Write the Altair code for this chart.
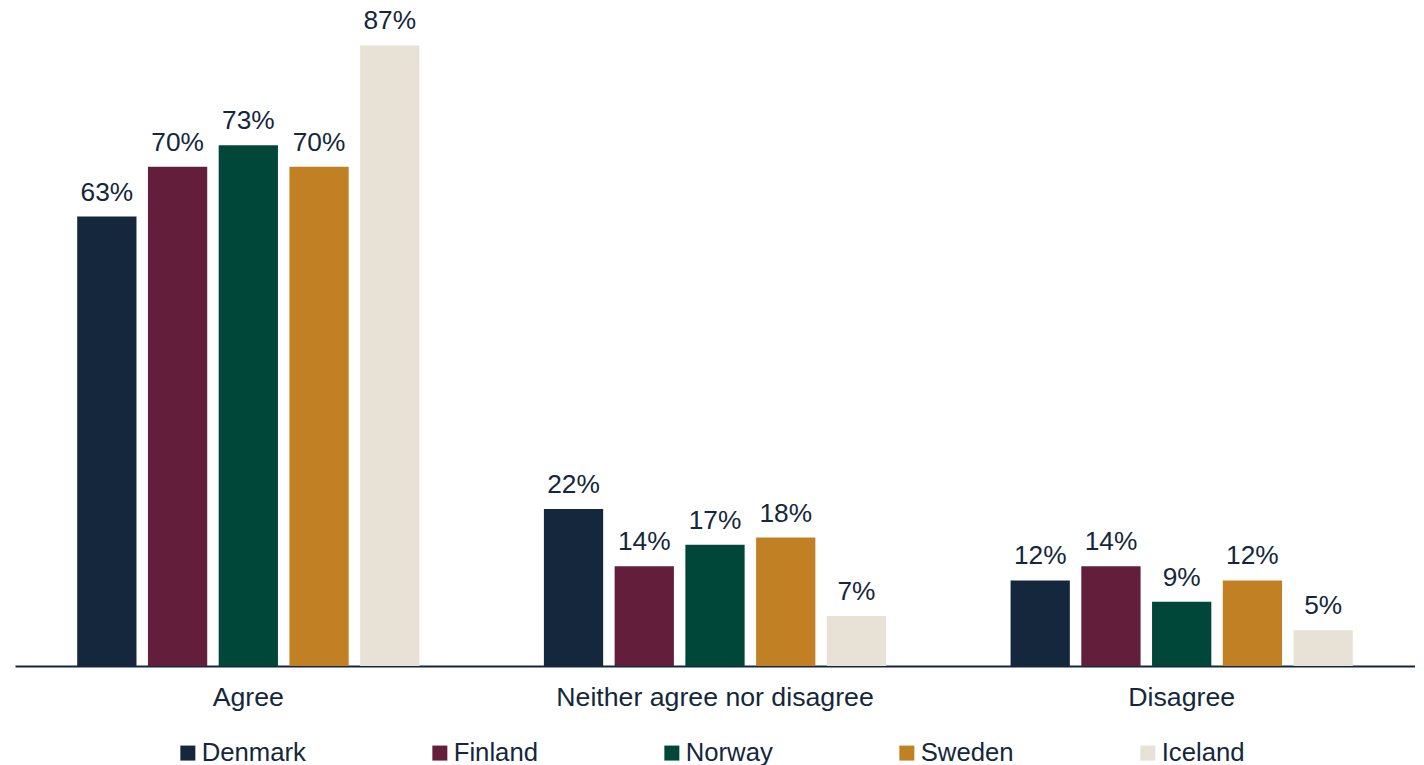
import altair as alt
import pandas as pd

categories = ["Agree", "Neither agree nor disagree", "Disagree"]
countries = ["Denmark", "Finland", "Norway", "Sweden", "Iceland"]
denmark = [63, 22, 12]
finland = [70, 14, 14]
norway = [73, 17, 9]
sweden = [70, 18, 12]
iceland = [87, 7, 5]
colors = ["#14273c", "#631e3b", "#00473a", "#c18023", "#e8e1d6"]

series = {"Denmark": denmark, "Finland": finland, "Norway": norway,
          "Sweden": sweden, "Iceland": iceland}
rows = []
for country in countries:
    for cat, v in zip(categories, series[country]):
        rows.append({"category": cat, "country": country, "value": v, "label": f"{v}%"})
df = pd.DataFrame(rows)

NAVY = "#14273c"
FONT = "Liberation Sans"

base = alt.Chart(df).encode(
    x=alt.X("category:N", sort=categories,
            scale=alt.Scale(paddingInner=0.2667, paddingOuter=0.1333),
            axis=alt.Axis(title=None, labelAngle=0, ticks=False, domainColor=NAVY,
                          domainWidth=2, labelFontSize=26.7, labelFont=FONT,
                          labelColor=NAVY, labelPadding=18, labelLimit=0, grid=False)),
    xOffset=alt.XOffset("country:N", sort=countries,
                        scale=alt.Scale(paddingInner=0.162, paddingOuter=0)),
    y=alt.Y("value:Q", scale=alt.Scale(domain=[0, 90]), axis=None),
)

bars = base.mark_bar().encode(
    color=alt.Color("country:N", sort=countries,
                    scale=alt.Scale(domain=countries, range=colors),
                    legend=alt.Legend(title=None, orient="none", legendX=160, legendY=716,
                                      direction="horizontal", columns=5, columnPadding=121,
                                      labelFontSize=25.7, labelFont=FONT, labelColor=NAVY,
                                      symbolType="square", symbolSize=225,
                                      symbolStrokeWidth=0, labelOffset=1, padding=0))
)

text = base.mark_text(baseline="alphabetic", dy=-16, fontSize=26.3, font=FONT,
                      color=NAVY).encode(text="label:N")

chart = alt.layer(bars, text).properties(
    width=1400, height=642,
    padding={"left": 7, "top": 0, "right": 0, "bottom": 0},
).configure_view(stroke=None)

chart.save("out.html", embed_options={"renderer": "svg", "actions": False})
